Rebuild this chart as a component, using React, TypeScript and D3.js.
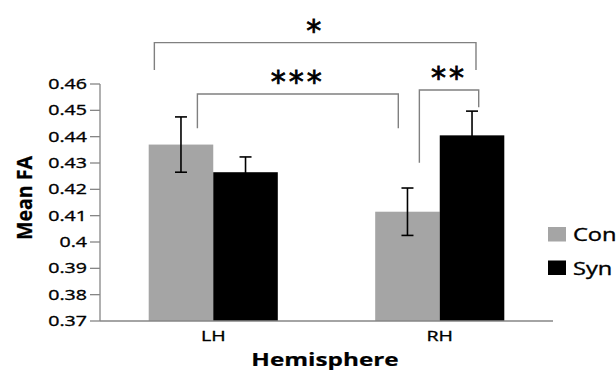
import React from "react";
import * as d3 from "d3";

const categories = ["LH", "RH"];
const seriesNames = ["Con", "Syn"];
const conValues = [0.437, 0.4115];
const synValues = [0.4265, 0.4405];
const conErrors = [0.0105, 0.009];
const synErrors = [0.0058, 0.0092];
const yTicks = [0.37, 0.38, 0.39, 0.4, 0.41, 0.42, 0.43, 0.44, 0.45, 0.46];
const seriesColors = ["#a5a5a5", "#000000"];

// significance brackets: [category, offset-in-band] for each end, values for top and legs
const brackets = [
  { label: "*", x1: ["LH", 0.24], x2: ["RH", 0.66], top: 0.4757, leg1: 0.4653, leg2: 0.4653 },
  { label: "***", x1: ["LH", 0.43], x2: ["RH", 0.317], top: 0.4562, leg1: 0.4432, leg2: 0.4432 },
  { label: "**", x1: ["RH", 0.41], x2: ["RH", 0.672], top: 0.4577, leg1: 0.4301, leg2: 0.4512 },
];

const SX = 1.35;
const FONT = "'Open Sans', 'Liberation Sans', sans-serif";

function T({ x, y, anchor = "start", size, weight = "normal", children, fill = "#000", sw = 0.35 }: any) {
  return (
    <text
      transform={`translate(${x},${y}) scale(${SX},1)`}
      textAnchor={anchor}
      fontSize={size}
      fontWeight={weight}
      fontFamily={FONT}
      fill={fill}
      stroke={fill}
      strokeWidth={sw}
    >
      {children}
    </text>
  );
}

export default function App() {
  const W = 616, H = 372;
  const left = 100, right = 553, y0 = 321, y1 = 84;
  const x = d3.scaleBand<string>().domain(categories).range([left, right]);
  const bw = x.bandwidth();
  const x1 = d3.scaleBand<string>().domain(seriesNames).range([bw * 0.215, bw * 0.785]);
  const y = d3.scaleLinear().domain([0.37, 0.46]).range([y0, y1]);
  const values = [conValues, synValues];
  const errors = [conErrors, synErrors];
  const pos = (p: any) => (x(p[0]) as number) + bw * p[1];

  return (
    <svg width={W} height={H} style={{ position: "absolute", left: 0, top: 0 }}>
      <rect width={W} height={H} fill="#fff" />
      {/* bars */}
      {seriesNames.map((s, si) =>
        categories.map((c, ci) => {
          const bx = (x(c) as number) + (x1(s) as number);
          const v = values[si][ci];
          return (
            <rect key={s + c} x={bx} y={y(v)} width={x1.bandwidth()} height={y0 - y(v)} fill={seriesColors[si]} />
          );
        })
      )}
      {/* error bars */}
      {seriesNames.map((s, si) =>
        categories.map((c, ci) => {
          const cx = (x(c) as number) + (x1(s) as number) + x1.bandwidth() / 2;
          const v = values[si][ci];
          const e = errors[si][ci];
          return (
            <g key={"e" + s + c} stroke="#000" strokeWidth={1.6}>
              <line x1={cx} x2={cx} y1={y(v + e)} y2={y(v - e)} />
              <line x1={cx - 6} x2={cx + 6} y1={y(v + e)} y2={y(v + e)} />
              <line x1={cx - 6} x2={cx + 6} y1={y(v - e)} y2={y(v - e)} />
            </g>
          );
        })
      )}
      {/* axes */}
      <line x1={left} x2={left} y1={y1} y2={y0} stroke="#868686" strokeWidth={1.3} />
      <line x1={left} x2={right} y1={y0} y2={y0} stroke="#868686" strokeWidth={1.3} />
      {yTicks.map((t) => (
        <g key={t}>
          <line x1={left - 10} x2={left} y1={y(t)} y2={y(t)} stroke="#868686" strokeWidth={1.3} />
          <T x={left - 13} y={y(t) + 5} anchor="end" size={14.5}>
            {d3.format("")(t)}
          </T>
        </g>
      ))}
      {categories.map((c) => (
        <T key={c} x={(x(c) as number) + bw / 2} y={341} anchor="middle" size={14.5}>
          {c}
        </T>
      ))}
      <T x={325} y={366} anchor="middle" size={18} weight="bold" sw={0.2}>
        Hemisphere
      </T>
      <text
        transform={`translate(32,198) rotate(-90) scale(1.15,1.25)`}
        textAnchor="middle"
        fontSize={17}
        fontWeight="bold"
        fontFamily={FONT}
        stroke="#000"
        strokeWidth={0.2}
      >
        Mean FA
      </text>
      {/* brackets */}
      {brackets.map((b, i) => {
        const xa = pos(b.x1), xb = pos(b.x2);
        return (
          <g key={i}>
            <path
              d={`M${xa},${y(b.leg1)}V${y(b.top)}H${xb}V${y(b.leg2)}`}
              fill="none"
              stroke="#808080"
              strokeWidth={1.4}
            />
            <text
              x={(xa + xb) / 2}
              y={y(b.top) - 2}
              textAnchor="middle"
              fontSize={30}
              letterSpacing={3}
              fontFamily="'DejaVu Sans', sans-serif"
              stroke="#000"
              strokeWidth={0.8}
            >
              {b.label}
            </text>
          </g>
        );
      })}
      {/* legend */}
      {seriesNames.map((s, i) => (
        <g key={s}>
          <rect x={548} y={227 + i * 33.5} width={18} height={14.5} fill={seriesColors[i]} />
          <T x={573} y={241 + i * 34} size={17.5}>
            {s}
          </T>
        </g>
      ))}
    </svg>
  );
}
